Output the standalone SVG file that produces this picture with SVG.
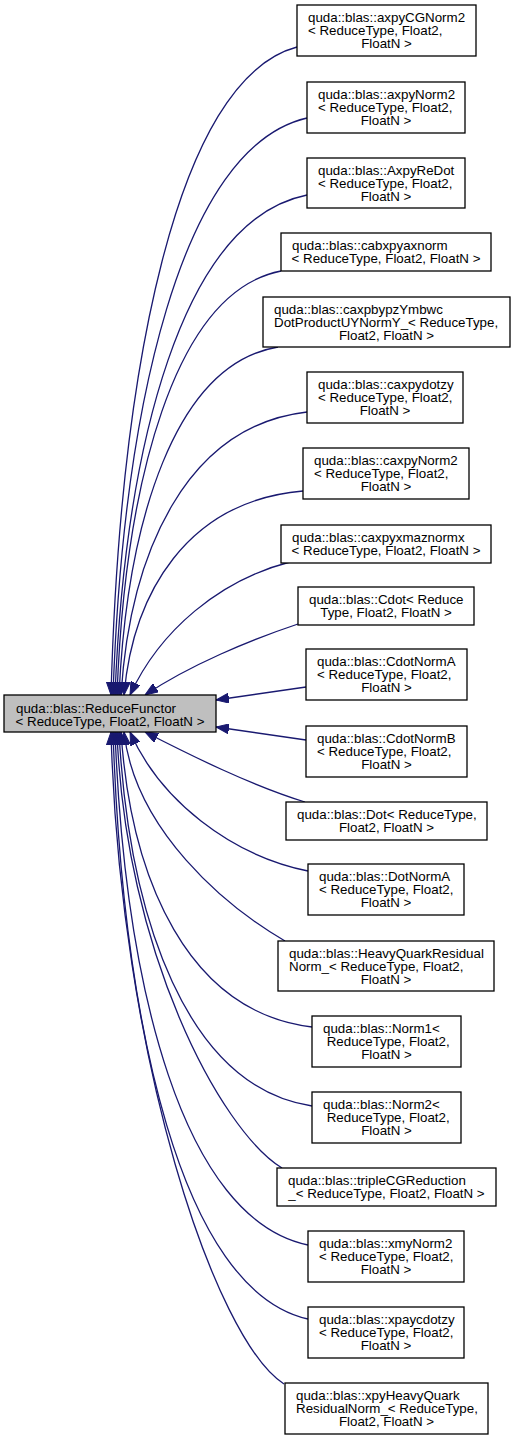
<svg xmlns="http://www.w3.org/2000/svg" width="515" height="1440" viewBox="0 0 515 1440">
<style>
.n rect{fill:#ffffff;stroke:#000000;stroke-width:1.3}
.m rect{fill:#bfbfbf;stroke:#000000;stroke-width:1.3}
text{font-family:"Liberation Sans",Arial,Helvetica,sans-serif;font-size:13.33px;fill:#000000}
.c{text-anchor:middle}
.e path{fill:none;stroke:#191970;stroke-width:1.3;marker-end:url(#ah)}
</style>
<defs>
<marker id="ah" markerUnits="userSpaceOnUse" viewBox="0 0 13 10" markerWidth="13" markerHeight="10" refX="13" refY="5" orient="auto">
<path d="M0,0 L13,5 L0,10 z" fill="#191970" stroke="#191970" stroke-width="1"/>
</marker>
</defs>
<rect width="515" height="1440" fill="#ffffff"/>
<g id="edges" class="e">
<path d="M297,47 C176,79 120,371 111,695"/>
<path d="M307,118 C181,147 123,407 113,695"/>
<path d="M307,195 C182,220 125,445 115,695"/>
<path d="M281,271 C174,292 125,483 117,695"/>
<path d="M278,347 C175,364 127,521 119,695"/>
<path d="M307,412 C186,426 130,553 121,695"/>
<path d="M303,491 C187,501 133,593 124,695"/>
<path d="M290,562 C220,580 160,630 130,695"/>
<path d="M298,624 C250,640 190,665 145,695"/>
<path d="M306,687 L216,700"/>
<path d="M306,740 L216,727"/>
<path d="M305,802 C250,785 190,755 145,732"/>
<path d="M308,871 C230,855 160,800 130,732"/>
<path d="M285,941 C225,906 135,830 124,732"/>
<path d="M312,1027 C188,1012 131,880 121,732"/>
<path d="M312,1106 C187,1087 129,919 119,732"/>
<path d="M282,1168 C220,1130 125,950 117,732"/>
<path d="M308,1245 C183,1219 125,989 115,732"/>
<path d="M308,1319 C181,1290 123,1026 113,732"/>
<path d="M284,1384 C215,1340 120,1058 111,732"/>
</g>
<g id="main" class="m">
<rect x="4" y="695" width="212" height="37"/>
<text x="16" y="713">quda::blas::ReduceFunctor</text>
<text class="c" x="110" y="726">&lt; ReduceType, Float2, FloatN &gt;</text>
</g>
<g id="n1" class="n">
<rect x="297" y="5" width="179" height="51"/>
<text x="308" y="22">quda::blas::axpyCGNorm2</text>
<text x="308" y="35">&lt; ReduceType, Float2,</text>
<text class="c" x="386.5" y="48">FloatN &gt;</text>
</g>
<g id="n2" class="n">
<rect x="307" y="82" width="158" height="51"/>
<text x="318" y="99">quda::blas::axpyNorm2</text>
<text x="318" y="112">&lt; ReduceType, Float2,</text>
<text class="c" x="386" y="125">FloatN &gt;</text>
</g>
<g id="n3" class="n">
<rect x="307" y="158" width="158" height="50"/>
<text x="318" y="174.5">quda::blas::AxpyReDot</text>
<text x="318" y="187.5">&lt; ReduceType, Float2,</text>
<text class="c" x="386" y="200.5">FloatN &gt;</text>
</g>
<g id="n4" class="n">
<rect x="281" y="233" width="210" height="38"/>
<text x="292" y="250">quda::blas::cabxpyaxnorm</text>
<text class="c" x="386" y="263">&lt; ReduceType, Float2, FloatN &gt;</text>
</g>
<g id="n5" class="n">
<rect x="263" y="297" width="247" height="50"/>
<text x="274" y="313.5">quda::blas::caxpbypzYmbwc</text>
<text x="274" y="326.5">DotProductUYNormY_&lt; ReduceType,</text>
<text class="c" x="386.5" y="339.5">Float2, FloatN &gt;</text>
</g>
<g id="n6" class="n">
<rect x="307" y="372" width="156" height="51"/>
<text x="318" y="389">quda::blas::caxpydotzy</text>
<text x="318" y="402">&lt; ReduceType, Float2,</text>
<text class="c" x="385" y="415">FloatN &gt;</text>
</g>
<g id="n7" class="n">
<rect x="303" y="448" width="166" height="51"/>
<text x="314" y="465">quda::blas::caxpyNorm2</text>
<text x="314" y="478">&lt; ReduceType, Float2,</text>
<text class="c" x="386" y="491">FloatN &gt;</text>
</g>
<g id="n8" class="n">
<rect x="281" y="525" width="210" height="38"/>
<text x="292" y="542">quda::blas::caxpyxmaznormx</text>
<text class="c" x="386" y="555">&lt; ReduceType, Float2, FloatN &gt;</text>
</g>
<g id="n9" class="n">
<rect x="298" y="587" width="176" height="38"/>
<text x="309" y="604">quda::blas::Cdot&lt; Reduce</text>
<text class="c" x="386" y="617">Type, Float2, FloatN &gt;</text>
</g>
<g id="n10" class="n">
<rect x="306" y="649" width="161" height="51"/>
<text x="317" y="666">quda::blas::CdotNormA</text>
<text x="317" y="679">&lt; ReduceType, Float2,</text>
<text class="c" x="386.5" y="692">FloatN &gt;</text>
</g>
<g id="n11" class="n">
<rect x="306" y="726" width="161" height="51"/>
<text x="317" y="743">quda::blas::CdotNormB</text>
<text x="317" y="756">&lt; ReduceType, Float2,</text>
<text class="c" x="386.5" y="769">FloatN &gt;</text>
</g>
<g id="n12" class="n">
<rect x="286" y="802" width="201" height="38"/>
<text x="297" y="819">quda::blas::Dot&lt; ReduceType,</text>
<text class="c" x="386.5" y="832">Float2, FloatN &gt;</text>
</g>
<g id="n13" class="n">
<rect x="308" y="864" width="156" height="51"/>
<text x="319" y="881">quda::blas::DotNormA</text>
<text x="319" y="894">&lt; ReduceType, Float2,</text>
<text class="c" x="386" y="907">FloatN &gt;</text>
</g>
<g id="n14" class="n">
<rect x="278" y="941" width="216" height="50"/>
<text x="289" y="957.5">quda::blas::HeavyQuarkResidual</text>
<text x="289" y="970.5">Norm_&lt; ReduceType, Float2,</text>
<text class="c" x="386" y="983.5">FloatN &gt;</text>
</g>
<g id="n15" class="n">
<rect x="312" y="1016" width="149" height="51"/>
<text x="323" y="1033">quda::blas::Norm1&lt;</text>
<text x="326.7" y="1046">ReduceType, Float2,</text>
<text class="c" x="386.5" y="1059">FloatN &gt;</text>
</g>
<g id="n16" class="n">
<rect x="312" y="1092" width="149" height="51"/>
<text x="323" y="1109">quda::blas::Norm2&lt;</text>
<text x="326.7" y="1122">ReduceType, Float2,</text>
<text class="c" x="386.5" y="1135">FloatN &gt;</text>
</g>
<g id="n17" class="n">
<rect x="277" y="1168" width="219" height="38"/>
<text x="288" y="1185">quda::blas::tripleCGReduction</text>
<text class="c" x="386.5" y="1198">_&lt; ReduceType, Float2, FloatN &gt;</text>
</g>
<g id="n18" class="n">
<rect x="308" y="1231" width="156" height="51"/>
<text x="319" y="1248">quda::blas::xmyNorm2</text>
<text x="319" y="1261">&lt; ReduceType, Float2,</text>
<text class="c" x="386" y="1274">FloatN &gt;</text>
</g>
<g id="n19" class="n">
<rect x="308" y="1307" width="156" height="51"/>
<text x="319" y="1324">quda::blas::xpaycdotzy</text>
<text x="319" y="1337">&lt; ReduceType, Float2,</text>
<text class="c" x="386" y="1350">FloatN &gt;</text>
</g>
<g id="n20" class="n">
<rect x="285" y="1383" width="203" height="51"/>
<text x="296" y="1400">quda::blas::xpyHeavyQuark</text>
<text x="296" y="1413">ResidualNorm_&lt; ReduceType,</text>
<text class="c" x="386.5" y="1426">Float2, FloatN &gt;</text>
</g>
</svg>
